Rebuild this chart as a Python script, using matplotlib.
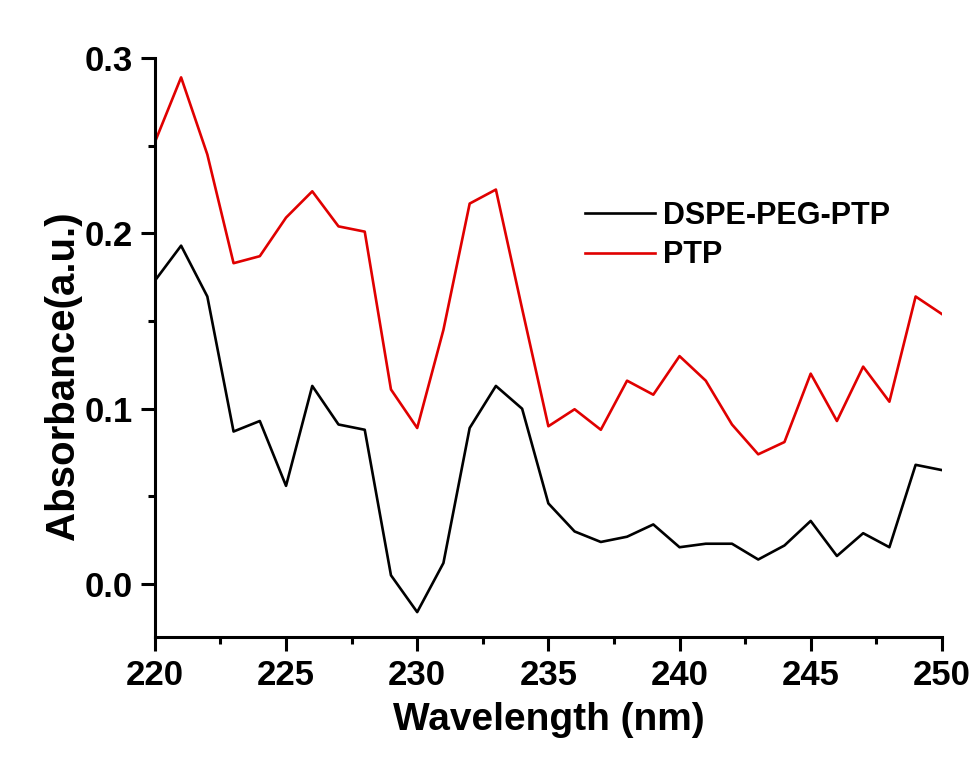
import matplotlib
matplotlib.use("Agg")
import matplotlib.pyplot as plt
from matplotlib.ticker import MultipleLocator

wavelength = list(range(220, 251))
dspe_peg_ptp = [0.173, 0.193, 0.164, 0.087, 0.093, 0.056, 0.113, 0.091, 0.088, 0.005,
                -0.016, 0.012, 0.089, 0.113, 0.100, 0.046, 0.030, 0.024, 0.027, 0.034,
                0.021, 0.023, 0.023, 0.014, 0.022, 0.036, 0.016, 0.029, 0.021, 0.068, 0.065]
ptp = [0.252, 0.289, 0.245, 0.183, 0.187, 0.209, 0.224, 0.204, 0.201, 0.111,
       0.089, 0.145, 0.217, 0.225, 0.157, 0.090, 0.0997, 0.088, 0.116, 0.108,
       0.130, 0.116, 0.091, 0.074, 0.081, 0.120, 0.093, 0.124, 0.104, 0.164, 0.154]

plt.rcParams['font.family'] = ['Liberation Sans', 'DejaVu Sans']
plt.rcParams['font.weight'] = 'bold'

fig = plt.figure(figsize=(9.74, 7.64), dpi=100)
ax = fig.add_axes([0.159, 0.166, 0.808, 0.758])

ax.plot(wavelength, dspe_peg_ptp, color='black', lw=1.9, label='DSPE-PEG-PTP')
ax.plot(wavelength, ptp, color='#e00000', lw=1.9, label='PTP')

ax.set_xlim(220, 250)
ax.set_ylim(-0.0303, 0.3)
ax.xaxis.set_major_locator(MultipleLocator(5))
ax.xaxis.set_minor_locator(MultipleLocator(2.5))
ax.yaxis.set_major_locator(MultipleLocator(0.1))
ax.yaxis.set_minor_locator(MultipleLocator(0.05))
ax.yaxis.set_major_formatter(matplotlib.ticker.FormatStrFormatter('%.1f'))

for s in ['top', 'right']:
    ax.spines[s].set_visible(False)
for s in ['left', 'bottom']:
    ax.spines[s].set_linewidth(2.2)

ax.tick_params(which='major', direction='out', length=10, width=2.2, labelsize=25, pad=6)
ax.tick_params(which='minor', direction='out', length=5, width=2.2)
for lbl in ax.get_xticklabels() + ax.get_yticklabels():
    lbl.set_fontweight('bold')

ax.set_xlabel('Wavelength (nm)', fontsize=28, fontweight='bold', labelpad=7)
ax.set_ylabel('Absorbance(a.u.)', fontsize=29, fontweight='bold')
ax.yaxis.set_label_coords(-0.093, 0.451)

leg = ax.legend(loc='upper left', bbox_to_anchor=(0.546, 0.753), frameon=False,
                prop={'size': 22, 'weight': 'bold'}, handlelength=2.3,
                handletextpad=0.26, labelspacing=0.3, borderpad=0, borderaxespad=0)

fig.savefig('out.png', dpi=100, facecolor='white')
